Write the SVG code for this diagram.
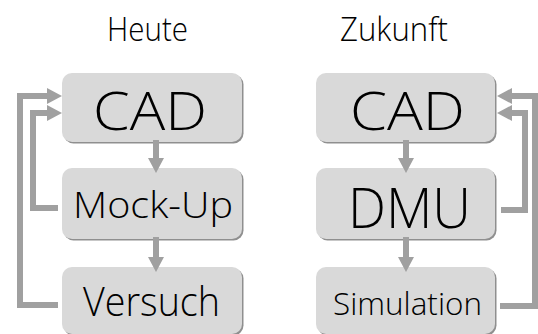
<svg xmlns="http://www.w3.org/2000/svg" width="538" height="334" viewBox="0 0 538 334">
<style>
.box{fill:#d9d9d9}
.sh{fill:#8f8f8f}
.t{font-family:"Open Sans","Noto Sans","Liberation Sans",sans-serif;fill:#000;text-anchor:middle;font-weight:300}
.c{fill:none;stroke:#a0a0a0;stroke-width:6}
</style>
<defs>
<marker id="ah" markerUnits="userSpaceOnUse" markerWidth="16" markerHeight="16" refX="0" refY="8" orient="auto" overflow="visible">
<path d="M0,0 L15,8 L0,16 z" fill="#a0a0a0"/>
</marker>
</defs>
<text class="t" x="147.5" y="41" font-size="33" textLength="81" lengthAdjust="spacingAndGlyphs">Heute</text>
<text class="t" x="394" y="41" font-size="33" textLength="108" lengthAdjust="spacingAndGlyphs">Zukunft</text>
<g id="l-cad"><rect class="sh" x="63.5" y="74.5" width="180" height="69" rx="10"/><rect class="box" x="62" y="73" width="180" height="69" rx="10"/><text class="t" x="150" y="130" font-size="53" textLength="114" lengthAdjust="spacingAndGlyphs">CAD</text></g>
<g id="l-mock"><rect class="sh" x="63.5" y="169.5" width="180" height="71" rx="10"/><rect class="box" x="62" y="168" width="180" height="71" rx="10"/><text class="t" x="153" y="218" font-size="37" textLength="160" lengthAdjust="spacingAndGlyphs">Mock-Up</text></g>
<g id="l-vers"><rect class="sh" x="63.5" y="268.5" width="180" height="67" rx="10"/><rect class="box" x="62" y="267" width="180" height="67" rx="10"/><text class="t" x="151.5" y="316" font-size="40" textLength="137" lengthAdjust="spacingAndGlyphs">Versuch</text></g>
<g id="r-cad"><rect class="sh" x="317.5" y="74.5" width="179" height="69" rx="10"/><rect class="box" x="316" y="73" width="179" height="69" rx="10"/><text class="t" x="407.5" y="130" font-size="53" textLength="115" lengthAdjust="spacingAndGlyphs">CAD</text></g>
<g id="r-dmu"><rect class="sh" x="317.5" y="169.5" width="179" height="71" rx="10"/><rect class="box" x="316" y="168" width="179" height="71" rx="10"/><text class="t" x="409.5" y="228" font-size="56" textLength="123" lengthAdjust="spacingAndGlyphs">DMU</text></g>
<g id="r-sim"><rect class="sh" x="317.5" y="268.5" width="179" height="67" rx="10"/><rect class="box" x="316" y="267" width="179" height="67" rx="10"/><text class="t" x="407.5" y="315" font-size="32" textLength="149" lengthAdjust="spacingAndGlyphs">Simulation</text></g>
<g id="connectors">
<path class="c" d="M156,140 V158" marker-end="url(#ah)"/>
<path class="c" d="M156,237 V257" marker-end="url(#ah)"/>
<path class="c" d="M406,140 V158" marker-end="url(#ah)"/>
<path class="c" d="M406,237 V257" marker-end="url(#ah)"/>
<path class="c" d="M58,305 H20 V96 H47" marker-end="url(#ah)"/>
<path class="c" d="M58,208 H33 V113 H47" marker-end="url(#ah)"/>
<path class="c" d="M500,306 H535 V96 H512" marker-end="url(#ah)"/>
<path class="c" d="M501,210 H525 V113 H512" marker-end="url(#ah)"/>
</g>
</svg>
